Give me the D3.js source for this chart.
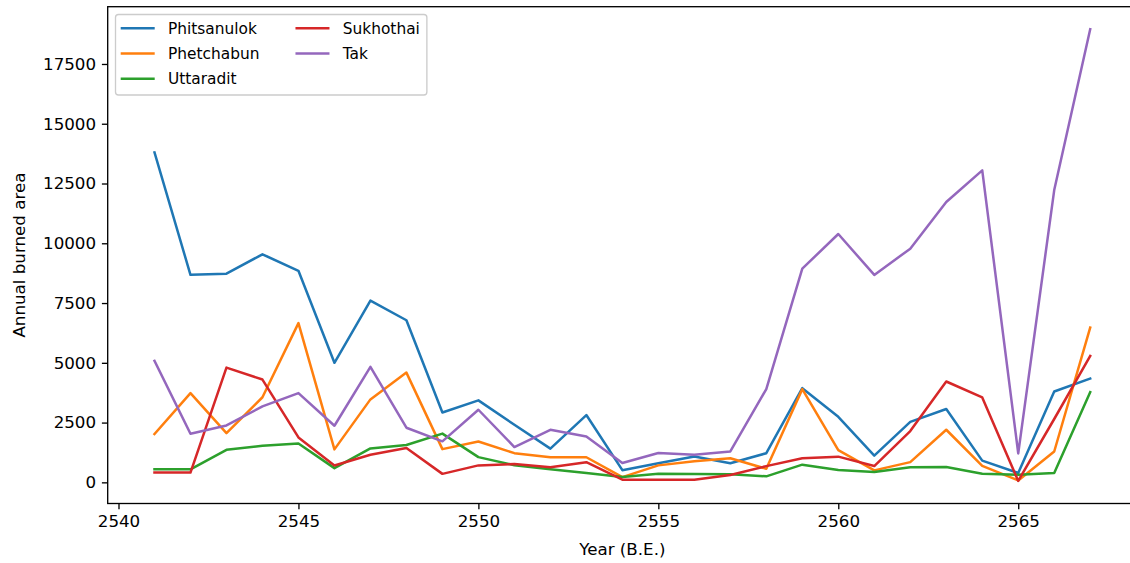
<!DOCTYPE html>
<html>
<head>
<meta charset="utf-8">
<script src="https://cdn.jsdelivr.net/npm/d3@7"></script>
<style>
  html, body { margin: 0; padding: 0; background: #fff; }
  svg { display: block; font-family: "DejaVu Sans", sans-serif; }
</style>
</head>
<body>
<svg id="chart" width="1130" height="563"></svg>
<script>
const years = d3.range(2541, 2568);
const seriesNames = ["Phitsanulok", "Phetchabun", "Uttaradit", "Sukhothai", "Tak"];
const seriesColors = ["#1f77b4", "#ff7f0e", "#2ca02c", "#d62728", "#9467bd"];
const phitsanulok = [13800, 8680, 8730, 9540, 8850, 5000, 7600, 6780, 2920, 3430, 2410, 1410, 2815, 510, 800, 1080, 800, 1220, 3940, 2740, 1120, 2530, 3066, 910, 393, 3800, 4340];
const phetchabun  = [2020, 3730, 2060, 3560, 6660, 1380, 3470, 4590, 1390, 1710, 1220, 1050, 1050, 220, 710, 880, 1010, 565, 3900, 1350, 500, 845, 2200, 690, 80, 1290, 6470];
const uttaradit   = [543, 543, 1360, 1533, 1625, 595, 1420, 1562, 2040, 1055, 715, 545, 393, 225, 357, 351, 335, 251, 739, 515, 434, 635, 643, 363, 322, 393, 3770];
const sukhothai   = [410, 410, 4800, 4300, 1880, 705, 1157, 1437, 355, 710, 768, 630, 845, 113, 110, 110, 309, 680, 1010, 1075, 683, 2145, 4219, 3550, 60, 2650, 5290];
const tak         = [5083, 2030, 2381, 3175, 3734, 2368, 4833, 2285, 1715, 3037, 1478, 2200, 1922, 810, 1228, 1157, 1295, 3901, 8939, 10388, 8676, 9775, 11725, 13049, 1210, 12226, 18951];
const seriesValues = [phitsanulok, phetchabun, uttaradit, sukhothai, tak];
const xTicks = [2540, 2545, 2550, 2555, 2560, 2565];
const yTicks = [0, 2500, 5000, 7500, 10000, 12500, 15000, 17500];
const xLabel = "Year (B.E.)";
const yLabel = "Annual burned area";

const FS = 16.7;
const LFS = 15.4;
const plot = { left: 107.7, top: 6.7, right: 1137, bottom: 503.5 };
const svg = d3.select("#chart");

const allVals = seriesValues.flat();
const yMin = d3.min(allVals), yMax = d3.max(allVals);
const yPad = (yMax - yMin) * 0.05;
const xPad = (years[years.length - 1] - years[0]) * 0.05;

const x = d3.scaleLinear()
  .domain([years[0] - xPad, years[years.length - 1] + xPad])
  .range([plot.left, plot.right]);
const y = d3.scaleLinear()
  .domain([yMin - yPad, yMax + yPad])
  .range([plot.bottom, plot.top]);

// lines
const line = d3.line().x((d, i) => x(years[i])).y(d => y(d));
seriesValues.forEach((vals, k) => {
  svg.append("path")
    .datum(vals)
    .attr("d", line)
    .attr("fill", "none")
    .attr("stroke", seriesColors[k])
    .attr("stroke-width", 2.5)
    .attr("stroke-linejoin", "round")
    .attr("stroke-linecap", "square");
});

// axes
const xAxis = d3.axisBottom(x).tickValues(xTicks).tickFormat(d3.format("d"))
  .tickSize(5.8).tickPadding(5.8);
const yAxis = d3.axisLeft(y).tickValues(yTicks).tickFormat(d3.format("d"))
  .tickSize(5.8).tickPadding(5.8);

const gx = svg.append("g").attr("transform", `translate(0,${plot.bottom})`).call(xAxis);
const gy = svg.append("g").attr("transform", `translate(${plot.left},0)`).call(yAxis);
[gx, gy].forEach(g => {
  g.select(".domain").remove();
  g.selectAll(".tick line").attr("stroke", "#000").attr("stroke-width", 1.33);
  g.selectAll(".tick text").attr("fill", "#000").style("font-size", FS + "px")
    .style("font-family", "'DejaVu Sans', sans-serif");
});

// spines
svg.append("rect")
  .attr("x", plot.left).attr("y", plot.top)
  .attr("width", plot.right - plot.left).attr("height", plot.bottom - plot.top)
  .attr("fill", "none").attr("stroke", "#000").attr("stroke-width", 1.33);

// axis labels
svg.append("text")
  .attr("x", (plot.left + plot.right) / 2).attr("y", 555)
  .attr("text-anchor", "middle").style("font-size", FS + "px").attr("fill", "#000")
  .text(xLabel);
svg.append("text")
  .attr("transform", `translate(25,${(plot.top + plot.bottom) / 2}) rotate(-90)`)
  .attr("text-anchor", "middle").style("font-size", FS + "px").attr("fill", "#000")
  .text(yLabel);

// legend
const lg = svg.append("g");
const boxX = 115.5, boxY = 14.5;
const box = lg.append("rect")
  .attr("x", boxX).attr("y", boxY)
  .attr("rx", 3).attr("ry", 3)
  .attr("fill", "#fff").attr("fill-opacity", 0.8)
  .attr("stroke", "#cccccc").attr("stroke-width", 1.33);
const rowH = 25.2;
const handleLen = 34;
const textPad = 13.3;
const colGap = 36;
const items = seriesNames.map((n, i) => ({ name: n, color: seriesColors[i], col: i < 3 ? 0 : 1, row: i < 3 ? i : i - 3 }));
const col0x = 120.7;
const texts = [];
items.filter(d => d.col === 0).forEach(d => {
  const cy = 28.3 + d.row * rowH;
  lg.append("line").attr("x1", col0x).attr("x2", col0x + handleLen).attr("y1", cy).attr("y2", cy)
    .attr("stroke", d.color).attr("stroke-width", 2.5);
  texts.push(lg.append("text").attr("x", col0x + handleLen + textPad).attr("y", cy)
    .attr("dy", "0.35em").style("font-size", LFS + "px").attr("fill", "#000").text(d.name));
});
const col0w = d3.max(texts, t => t.node().getComputedTextLength());
const col1x = col0x + handleLen + textPad + col0w + colGap;
let col1w = 0;
items.filter(d => d.col === 1).forEach(d => {
  const cy = 28.3 + d.row * rowH;
  lg.append("line").attr("x1", col1x).attr("x2", col1x + handleLen).attr("y1", cy).attr("y2", cy)
    .attr("stroke", d.color).attr("stroke-width", 2.5);
  const t = lg.append("text").attr("x", col1x + handleLen + textPad).attr("y", cy)
    .attr("dy", "0.35em").style("font-size", LFS + "px").attr("fill", "#000").text(d.name);
  col1w = Math.max(col1w, t.node().getComputedTextLength());
});
box.attr("width", col1x + handleLen + textPad + col1w + 7 - boxX)
   .attr("height", 95 - boxY);
</script>
</body>
</html>
